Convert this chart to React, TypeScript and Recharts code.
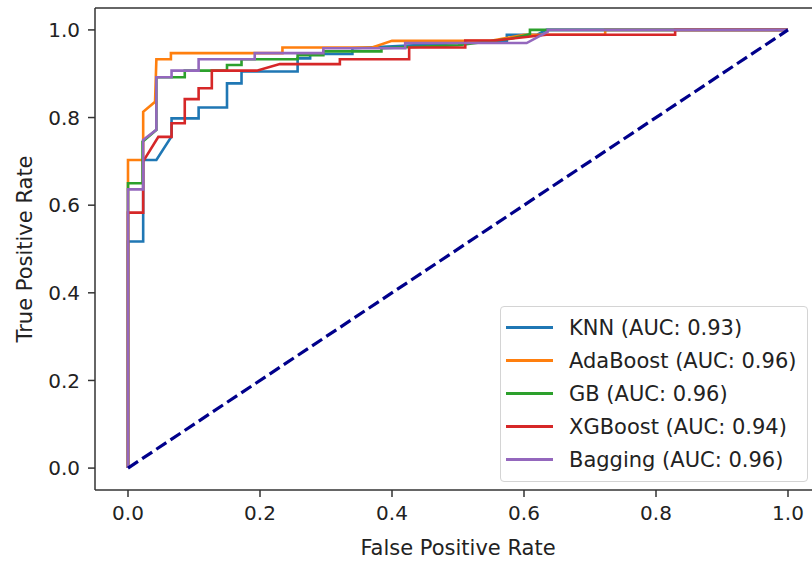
import { LineChart, Line, XAxis, YAxis, ReferenceLine, Legend } from "recharts";

// ROC curves for the five classifiers
const MODELS = ["KNN", "AdaBoost", "GB", "XGBoost", "Bagging"];
const AUC = [0.93, 0.96, 0.96, 0.94, 0.96];
const COLORS = ["#1f77b4", "#ff7f0e", "#2ca02c", "#d62728", "#9467bd"];
const TICKS = [0, 0.2, 0.4, 0.6, 0.8, 1.0];

const KNN_FPR = [0, 0, 0.023, 0.023, 0.043, 0.066, 0.066, 0.107, 0.107, 0.15, 0.15, 0.172, 0.172, 0.257, 0.257, 0.276, 0.276, 0.34, 0.34, 0.574, 0.574, 0.62, 0.634, 1];
const KNN_TPR = [0, 0.517, 0.517, 0.703, 0.703, 0.757, 0.798, 0.798, 0.823, 0.823, 0.878, 0.878, 0.905, 0.905, 0.935, 0.935, 0.945, 0.945, 0.958, 0.975, 0.989, 0.989, 1, 1];

const ADA_FPR = [0, 0, 0.023, 0.023, 0.041, 0.043, 0.065, 0.065, 0.234, 0.234, 0.37, 0.4, 0.55, 0.6, 0.723, 0.723, 1];
const ADA_TPR = [0, 0.703, 0.703, 0.813, 0.836, 0.933, 0.933, 0.947, 0.947, 0.96, 0.96, 0.975, 0.975, 0.989, 0.989, 1, 1];

const GB_FPR = [0, 0, 0.022, 0.022, 0.043, 0.043, 0.086, 0.086, 0.15, 0.15, 0.172, 0.172, 0.257, 0.257, 0.296, 0.296, 0.384, 0.384, 0.5, 0.58, 0.609, 0.609, 1];
const GB_TPR = [0, 0.65, 0.65, 0.745, 0.772, 0.892, 0.892, 0.907, 0.907, 0.92, 0.92, 0.933, 0.933, 0.942, 0.942, 0.951, 0.951, 0.958, 0.965, 0.98, 0.99, 1, 1];

const XGB_FPR = [0, 0, 0.023, 0.023, 0.046, 0.066, 0.066, 0.086, 0.086, 0.107, 0.107, 0.127, 0.127, 0.195, 0.23, 0.321, 0.321, 0.426, 0.426, 0.511, 0.511, 0.557, 0.634, 0.829, 0.829, 1];
const XGB_TPR = [0, 0.583, 0.583, 0.7, 0.756, 0.756, 0.787, 0.787, 0.842, 0.842, 0.867, 0.867, 0.907, 0.907, 0.922, 0.922, 0.933, 0.933, 0.96, 0.96, 0.976, 0.976, 0.989, 0.989, 1, 1];

const BAG_FPR = [0, 0, 0.023, 0.023, 0.043, 0.043, 0.066, 0.066, 0.107, 0.107, 0.192, 0.192, 0.296, 0.296, 0.42, 0.42, 0.604, 0.636, 0.636, 1];
const BAG_TPR = [0, 0.636, 0.636, 0.749, 0.772, 0.892, 0.892, 0.907, 0.907, 0.933, 0.933, 0.947, 0.947, 0.958, 0.958, 0.97, 0.97, 0.996, 1, 1];

const CHANCE_X = [0, 1];
const CHANCE_Y = [0, 1];

const toPoints = (xs: number[], ys: number[]) => xs.map((x, i) => ({ x, y: ys[i] }));

const curves = [
  toPoints(KNN_FPR, KNN_TPR),
  toPoints(ADA_FPR, ADA_TPR),
  toPoints(GB_FPR, GB_TPR),
  toPoints(XGB_FPR, XGB_TPR),
  toPoints(BAG_FPR, BAG_TPR),
];

const labels = MODELS.map((m, i) => `${m} (AUC: ${AUC[i].toFixed(2)})`);

const FONT = "DejaVu Sans";
const AXIS = "#333";

// matplotlib-style legend box; keeps plotting order and skips the chance line
function RocLegend({ payload }: any) {
  const items = (payload || [])
    .filter((p: any) => labels.includes(p.value))
    .sort((a: any, b: any) => labels.indexOf(a.value) - labels.indexOf(b.value));
  return (
    <div
      style={{
        width: 308,
        padding: "4px 0 5px 0",
        border: "1.5px solid #d4d4d4",
        borderRadius: 4,
        background: "rgba(255,255,255,0.85)",
        fontFamily: FONT,
        fontSize: 21,
        color: "#222",
        boxSizing: "border-box",
      }}
    >
      {items.map((p: any) => (
        <div key={p.value} style={{ display: "flex", alignItems: "center", height: 33 }}>
          <div style={{ width: 47, height: 3, background: p.color, marginLeft: 5, marginRight: 16 }} />
          <span style={{ whiteSpace: "nowrap" }}>{p.value}</span>
        </div>
      ))}
    </div>
  );
}

export default function App() {
  return (
    <div style={{ position: "fixed", left: 0, top: 0, width: 812, height: 564, overflow: "hidden", background: "#fff" }}>
      <LineChart width={830} height={564} margin={{ top: 8, right: 9, left: 0, bottom: 0 }}>
        <XAxis
          type="number"
          dataKey="x"
          domain={[-0.05, 1.05]}
          ticks={TICKS}
          tickFormatter={(v: number) => v.toFixed(1)}
          height={74}
          tickSize={7}
          tickMargin={9}
          stroke={AXIS}
          strokeWidth={1.5}
          tick={{ fill: "#222", fontSize: 20, fontFamily: FONT }}
          label={{
            content: ({ viewBox }: any) => (
              <text
                x={viewBox.x + viewBox.width / 2}
                y={viewBox.y + 65}
                textAnchor="middle"
                fill="#222"
                fontSize={21}
                fontFamily={FONT}
              >
                False Positive Rate
              </text>
            ),
          }}
        />
        <YAxis
          type="number"
          dataKey="y"
          domain={[-0.05, 1.05]}
          ticks={TICKS}
          tickFormatter={(v: number) => v.toFixed(1)}
          width={95}
          tickSize={7}
          tickMargin={8}
          stroke={AXIS}
          strokeWidth={1.5}
          tick={{ fill: "#222", fontSize: 20, fontFamily: FONT }}
          label={{
            content: ({ viewBox }: any) => {
              const cy = viewBox.y + viewBox.height / 2;
              return (
                <text
                  x={25}
                  y={cy}
                  transform={`rotate(-90, 25, ${cy})`}
                  textAnchor="middle"
                  dominantBaseline="central"
                  fill="#222"
                  fontSize={21}
                  fontFamily={FONT}
                >
                  True Positive Rate
                </text>
              );
            },
          }}
        />
        <ReferenceLine y={1.05} stroke={AXIS} strokeWidth={1.5} />
        <ReferenceLine x={1.05} stroke={AXIS} strokeWidth={1.5} />
        {curves.map((pts, i) => (
          <Line
            key={MODELS[i]}
            data={pts}
            dataKey="y"
            name={labels[i]}
            type="linear"
            stroke={COLORS[i]}
            strokeWidth={2.6}
            dot={false}
            activeDot={false}
            isAnimationActive={false}
          />
        ))}
        <Line
          data={toPoints(CHANCE_X, CHANCE_Y)}
          dataKey="y"
          name="chance"
          type="linear"
          stroke="#00008b"
          strokeWidth={3.2}
          strokeDasharray="12 5"
          dot={false}
          activeDot={false}
          legendType="none"
          isAnimationActive={false}
        />
        <Legend
          layout="vertical"
          align="center"
          verticalAlign="middle"
          wrapperStyle={{ left: 500, top: 306, width: 308 }}
          content={(props: any) => <RocLegend payload={props.payload} />}
        />
      </LineChart>
    </div>
  );
}
